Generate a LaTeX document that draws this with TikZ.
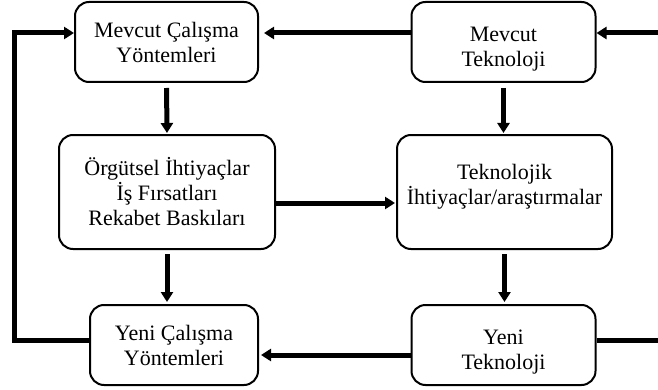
\documentclass[tikz,border=0pt]{standalone}
\usepackage{fontspec}
\setmainfont{Liberation Serif}
\usetikzlibrary{arrows.meta}
\tikzset{
  box/.style={draw, rounded corners=7pt, line width=1pt, align=center,
    minimum width=92pt, minimum height=40pt, inner sep=2pt,
    font=\fontsize{11}{12.5}\selectfont},
  arrow/.style={-{Triangle[length=5pt,width=6pt]}, line width=2.5pt},
  link/.style={line width=2.5pt}
}
% struts that nudge text inside a box
\newcommand{\ustpay}{\rule{0pt}{14.5pt}}
\newcommand{\altpay}{\rule[-7.5pt]{0pt}{7.5pt}}

\begin{document}
\begin{tikzpicture}[x=0.5pt, y=-0.5pt]
  \useasboundingbox (0,0) rectangle (658,390);
  \node[box, minimum width=91.5pt] (mevcutyontem) at (166.5,42) {Mevcut Çalışma\\Yöntemleri};
  \node[box] (mevcuttek) at (503.5,42) {\ustpay Mevcut\\Teknoloji};
  \node[box, minimum width=108pt, minimum height=57pt] (orgut) at (167,192) {Örgütsel İhtiyaçlar\\İş Fırsatları\\Rekabet Baskıları};
  \node[box, minimum width=107.5pt, minimum height=57pt] (teknolojik) at (504.5,192) {Teknolojik\\İhtiyaçlar/araştırmalar\altpay};
  \node[box, minimum width=84pt] (yeniyontem) at (174,345) {Yeni Çalışma\\Yöntemleri};
  \node[box] (yenitek) at (503.5,345) {\ustpay Yeni\\Teknoloji};
  % free ends at the picture's edges
  \coordinate (sagust) at (658,33);
  \coordinate (sagalt) at (658,340);
  \coordinate (solhat) at (14,0);
  % downward arrows
  \draw[arrow, shorten <=2.5pt, shorten >=0.5pt] (mevcutyontem.south) -- (orgut.north);
  \draw[arrow, shorten <=2.5pt, shorten >=0.5pt] (mevcuttek.south) -- (mevcuttek.south |- teknolojik.north);
  \draw[arrow, shorten <=2pt, shorten >=1pt] (orgut.south) -- (orgut.south |- yeniyontem.north);
  \draw[arrow, shorten <=2pt, shorten >=1pt] (teknolojik.south) -- (teknolojik.south |- yenitek.north);
  % sideways arrows
  \draw[arrow, shorten >=2.5pt] ([yshift=4.5pt]mevcuttek.west) -- ([yshift=4.5pt]mevcutyontem.east);
  \draw[arrow] (sagust) -- (sagust -| mevcuttek.east);
  \draw[arrow, shorten >=0.5pt] ([yshift=-5.5pt]orgut.east) -- ([yshift=-5.5pt]teknolojik.west);
  \draw[arrow, shorten >=1pt] ([yshift=-5pt]yenitek.west) -- ([yshift=-5pt]yeniyontem.east);
  \draw[link] (sagalt -| yenitek.east) -- (sagalt);
  \draw[arrow] ([yshift=2.5pt]yeniyontem.west) -| (solhat |- sagust) -- (sagust -| mevcutyontem.west);
\end{tikzpicture}
\end{document}
